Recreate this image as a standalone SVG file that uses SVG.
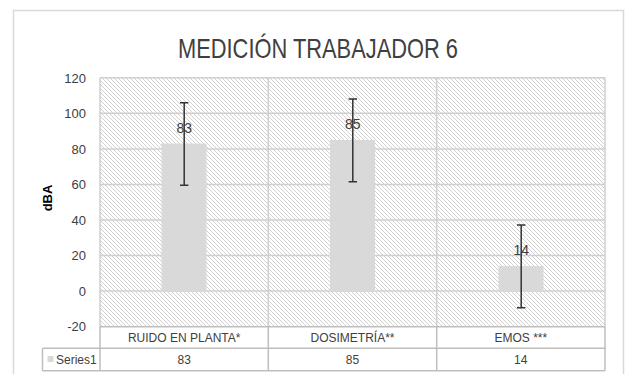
<svg xmlns="http://www.w3.org/2000/svg" width="626" height="374" viewBox="0 0 626 374">
<defs>
<pattern id="hatch" width="4" height="4" patternUnits="userSpaceOnUse">
<rect width="4" height="4" fill="#ffffff"/>
<path d="M-1,-1 L5,5 M-1,3 L1,5 M3,-1 L5,1" stroke="#cccccc" stroke-width="0.9"/>
</pattern>
<style>
text{font-family:"Liberation Sans","Open Sans",sans-serif;fill:#404040}
.ax{font-size:13px;text-anchor:end}
.tb{font-size:12px;text-anchor:middle}
.dl{font-size:14px;text-anchor:middle}
.grid{stroke:#cfcfcf;stroke-width:1.5}
.bar{fill:#d9d9d9}
.err{stroke:#333333;stroke-width:1.5;fill:none}
.cell{stroke:#bfbfbf;stroke-width:1.5;fill:none}
</style>
</defs>
<rect x="13.5" y="10.5" width="610" height="372" fill="#ffffff" stroke="#d9d9d9" stroke-width="1.5"/>
<text x="318" y="58" font-size="28" text-anchor="middle" textLength="280" lengthAdjust="spacingAndGlyphs" style="fill:#404040">MEDICIÓN TRABAJADOR 6</text>
<g id="plot">
<rect x="100" y="77.7" width="505" height="249" fill="url(#hatch)"/>
<line class="grid" x1="100" y1="77.7" x2="605" y2="77.7"/>
<line class="grid" x1="100" y1="113.3" x2="605" y2="113.3"/>
<line class="grid" x1="100" y1="148.9" x2="605" y2="148.9"/>
<line class="grid" x1="100" y1="184.5" x2="605" y2="184.5"/>
<line class="grid" x1="100" y1="220" x2="605" y2="220"/>
<line class="grid" x1="100" y1="255.5" x2="605" y2="255.5"/>
<line class="grid" x1="100" y1="291" x2="605" y2="291"/>
<line class="grid" x1="268.3" y1="77.7" x2="268.3" y2="326.7"/>
<line class="grid" x1="436.7" y1="77.7" x2="436.7" y2="326.7"/>
<line class="grid" x1="100" y1="77.7" x2="100" y2="326.7"/>
<line class="grid" x1="605" y1="77.7" x2="605" y2="326.7"/>
</g>
<g id="yaxis">
<text class="ax" x="86" y="82.5">120</text>
<text class="ax" x="86" y="118">100</text>
<text class="ax" x="86" y="153.5">80</text>
<text class="ax" x="86" y="189">60</text>
<text class="ax" x="86" y="224.5">40</text>
<text class="ax" x="86" y="260">20</text>
<text class="ax" x="86" y="295.5">0</text>
<text class="ax" x="86" y="331">-20</text>
<text x="0" y="0" font-size="13" font-weight="bold" text-anchor="middle" transform="translate(52,198) rotate(-90)" style="fill:#000000">dBA</text>
</g>
<g id="bar-ruido">
<rect class="bar" x="161.5" y="143.5" width="45" height="147.5"/>
</g>
<g id="bar-dosimetria">
<rect class="bar" x="330" y="140" width="45" height="151"/>
</g>
<g id="bar-emos">
<rect class="bar" x="498.5" y="266.1" width="45" height="24.9"/>
</g>
<g id="connectors">
<path class="err" d="M184.2,102.7 V185.3 M180,102.7 H188.4 M180,185.3 H188.4"/>
<path class="err" d="M352.8,99 V181.7 M348.6,99 H357 M348.6,181.7 H357"/>
<path class="err" d="M521.2,225 V307.7 M517,225 H525.4 M517,307.7 H525.4"/>
</g>
<g id="labels">
<text class="dl" x="184.2" y="133">83</text>
<text class="dl" x="352.8" y="129">85</text>
<text class="dl" x="521.2" y="255">14</text>
</g>
<g id="table">
<path class="cell" d="M100,326.7 V370.7 M268.3,326.7 V370.7 M436.7,326.7 V370.7 M605,326.7 V370.7 M100,326.7 H605 M42.5,348.3 H605 M42.5,370.7 H605 M42.5,348.3 V370.7"/>
<text class="tb" x="184.2" y="342">RUIDO EN PLANTA*</text>
<text class="tb" x="352.5" y="342">DOSIMETRÍA**</text>
<text class="tb" x="520.8" y="342">EMOS ***</text>
<text class="tb" x="184.2" y="364">83</text>
<text class="tb" x="352.5" y="364">85</text>
<text class="tb" x="520.8" y="364">14</text>
<rect x="47.5" y="356" width="6" height="6" fill="#d9d9d9"/>
<text x="56" y="364" font-size="12">Series1</text>
</g>
</svg>
